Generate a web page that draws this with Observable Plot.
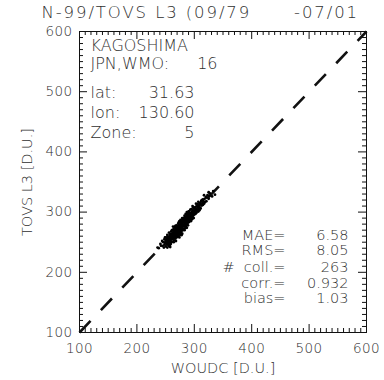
<!DOCTYPE html>
<html><head><meta charset="utf-8">
<script src="https://cdn.jsdelivr.net/npm/d3@7"></script>
<script src="https://cdn.jsdelivr.net/npm/@observablehq/plot@0.6"></script>
<style>
html,body{margin:0;padding:0;background:#fff;}
svg text{white-space:pre;}
</style></head><body><div id="chart"></div>
<script>
const title = "N-99/TOVS L3 (09/79      -07/01";
const xLabel = "WOUDC [D.U.]";
const yLabel = "TOVS L3 [D.U.]";
const tickValues = [100, 200, 300, 400, 500, 600];
const stationLabels = ["KAGOSHIMA", "JPN,WMO:", "lat:", "lon:", "Zone:"];
const stationValues = ["", "16", "31.63", "130.60", "5"];
const statLabels = ["MAE=", "RMS=", "#  coll.=", "corr.=", "bias="];
const statValues = ["6.58", "8.05", "263", "0.932", "1.03"];
const oneToOne = [100, 600];

const woudc = [
 236,241,238,244,245,246,247,248,248,249,242,249,
 250,250,251,251,252,252,253,253,254,254,255,255,255,256,256,257,257,257,258,258,258,259,259,259,253,256,251,254,258,260,
 260,260,261,261,261,262,262,262,263,263,263,264,264,264,265,265,265,265,266,266,266,267,267,267,267,268,268,268,268,269,269,269,269,270,260,261,262,263,264,265,266,267,268,269,270,
 270,270,271,271,271,272,272,272,272,273,273,273,274,274,274,274,275,275,275,275,276,276,276,276,277,277,277,277,278,278,278,278,279,279,279,279,280,280,271,272,273,274,275,276,277,278,279,280,273,276,
 280,281,281,281,282,282,282,283,283,283,283,284,284,284,285,285,285,285,286,286,286,287,287,287,287,288,288,288,289,289,289,289,290,290,281,282,284,285,286,288,289,290,283,287,290,
 291,291,291,292,292,292,293,293,293,294,294,294,295,295,295,296,296,296,297,297,297,298,298,298,299,299,299,300,300,291,293,295,297,299,300,
 301,301,302,302,303,303,304,304,305,305,306,306,307,307,308,308,309,309,310,310,303,307,
 311,311,312,313,313,314,315,315,316,317,318,318,317,320,
 321,322,323,325,326,327,325,331,333,336
];
const tovs = [
 241,247,240,252,244,250,241,255,246,249,244,258,
 252,243,258,249,246,255,250,262,247,253,259,244,251,257,249,262,252,245,256,264,250,254,247,260,241,266,253,258,242,255,
 262,268,257,264,251,260,270,255,266,259,262,257,272,263,260,267,253,270,264,258,275,262,268,256,271,265,260,274,252,267,262,278,258,270,250,270,264,276,250,262,268,277,269,271,263,
 274,259,268,277,264,271,281,266,260,275,269,283,272,265,279,258,276,270,284,267,274,280,262,287,271,278,266,283,275,269,286,281,273,279,264,290,277,284,272,276,262,285,273,269,275,262,284,270,278,277,
 288,279,285,272,283,290,276,281,287,294,270,285,279,292,283,288,276,297,284,291,279,289,283,295,274,286,292,281,290,285,299,278,288,294,290,286,273,291,287,298,294,283,277,300,301,
 289,295,284,293,299,287,291,297,304,290,296,285,298,292,305,294,300,288,296,303,291,299,294,308,297,302,290,301,296,301,286,288,310,306,308,
 303,298,306,297,301,309,305,299,310,303,304,313,308,301,312,305,310,303,315,307,314,317,
 313,306,318,311,320,315,312,321,318,314,322,316,328,325,
 318,324,328,322,327,331,333,326,335,329
];

const W = 384, H = 380, mL = 79, mR = 18, mT = 31, mB = 48;
const kx = 500 / (W - mL - mR), ky = 500 / (H - mT - mB);
const points = woudc.map((x, i) => ({x, y: tovs[i]}));
const minor = d3.range(110, 600, 10).filter(v => v % 100 !== 0);
const ink = "#111";
const txt = "#303030";

function frameTicks(vals, len) {
  const o = {stroke: ink, strokeWidth: 1};
  return [
    Plot.ruleX(vals, {x: d => d, y1: 100, y2: 100 + len * ky, ...o}),
    Plot.ruleX(vals, {x: d => d, y1: 600, y2: 600 - len * ky, ...o}),
    Plot.ruleY(vals, {y: d => d, x1: 100, x2: 100 + len * kx, ...o}),
    Plot.ruleY(vals, {y: d => d, x1: 600, x2: 600 - len * kx, ...o})
  ];
}

const stationDy = [14, 32, 61, 81, 101];
const stationValDx = [138, 138, 115, 115, 115];
const statDy = [-97, -82, -65.5, -49.5, -34.5];
const fw = 300;

const marks = [
  Plot.frame({stroke: ink, strokeWidth: 1}),
  ...frameTicks(minor, 4),
  ...frameTicks(tickValues, 8),
  Plot.text(tickValues, {x: d => d, frameAnchor: "bottom", dy: 16, lineAnchor: "middle", fontSize: 13.5, fontWeight: fw, fill: txt}),
  Plot.text(tickValues, {y: d => d, frameAnchor: "left", dx: -7, textAnchor: "end", lineAnchor: "middle", fontSize: 13.5, fontWeight: fw, fill: txt}),
  Plot.line(oneToOne, {x: d => d, y: d => d, stroke: ink, strokeWidth: 2.6, strokeDasharray: "16,15", strokeLinecap: "butt"}),
  Plot.dot(points, {x: "x", y: "y", r: 1.4, fill: "#000", stroke: null}),
  Plot.text([title], {frameAnchor: "top-left", dx: -38, dy: -18.5, textAnchor: "start", lineAnchor: "middle", fontSize: 16.5, fontWeight: fw, fill: txt}),
  Plot.text([xLabel], {frameAnchor: "bottom", dy: 36, lineAnchor: "middle", fontSize: 14.5, fontWeight: fw, fill: txt}),
  Plot.text([yLabel], {frameAnchor: "left", dx: -52, rotate: -90, lineAnchor: "middle", textAnchor: "middle", fontSize: 14.5, fontWeight: fw, fill: txt}),
  ...stationLabels.map((t, i) => Plot.text([t], {frameAnchor: "top-left", dx: 11, dy: stationDy[i], textAnchor: "start", lineAnchor: "middle", fontSize: 16, fontWeight: fw, fill: txt})),
  ...stationValues.map((t, i) => Plot.text([t], {frameAnchor: "top-left", dx: stationValDx[i], dy: stationDy[i], textAnchor: "end", lineAnchor: "middle", fontSize: 16, fontWeight: fw, fill: txt})),
  ...statLabels.map((t, i) => Plot.text([t], {frameAnchor: "bottom-right", dx: -81, dy: statDy[i], textAnchor: "end", lineAnchor: "middle", fontSize: 14.5, fontWeight: fw, fill: txt})),
  ...statValues.map((t, i) => Plot.text([t], {frameAnchor: "bottom-right", dx: -18, dy: statDy[i], textAnchor: "end", lineAnchor: "middle", fontSize: 14.5, fontWeight: fw, fill: txt}))
];

const chart = Plot.plot({
  width: W, height: H,
  marginLeft: mL, marginRight: mR, marginTop: mT, marginBottom: mB,
  x: {domain: [100, 600], axis: null},
  y: {domain: [100, 600], axis: null},
  style: {fontFamily: "'DejaVu Sans', sans-serif", background: "#fff", color: txt},
  marks
});
chart.querySelectorAll("text").forEach(t => {
  if (t.textContent === title) t.style.letterSpacing = "1.9px";
  else if (tickValues.map(String).includes(t.textContent)) t.style.letterSpacing = "0.4px";
});
document.getElementById("chart").appendChild(chart);
</script>
</body></html>
